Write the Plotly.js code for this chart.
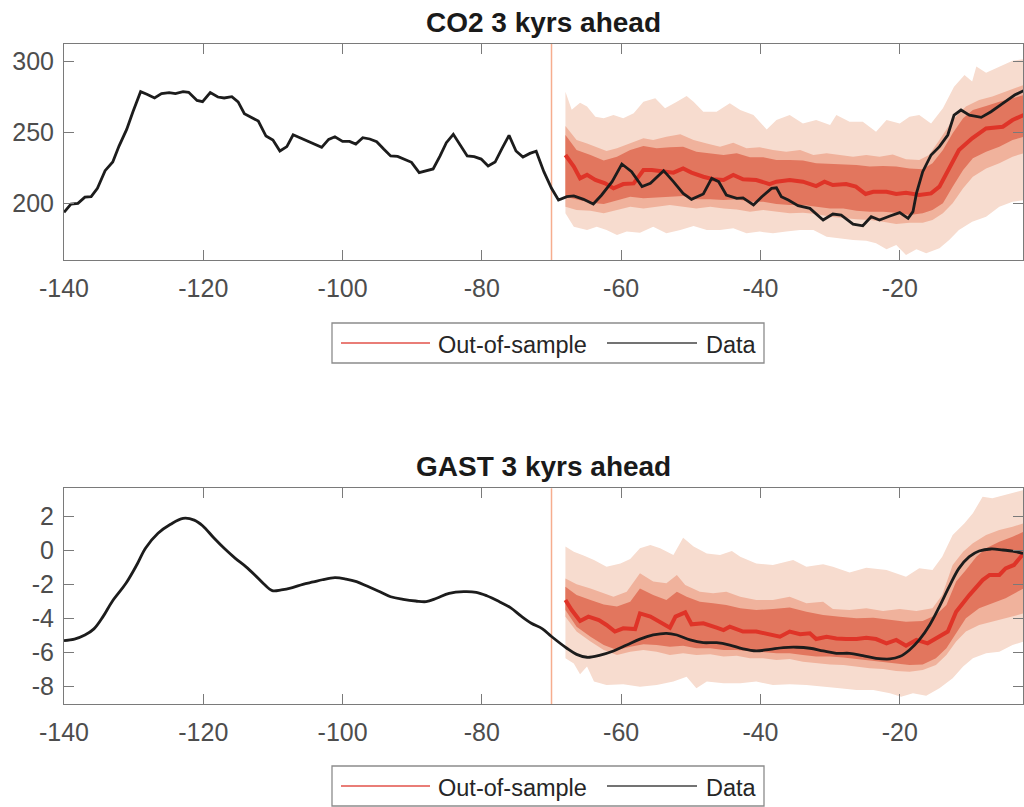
<!DOCTYPE html>
<html>
<head>
<meta charset="utf-8">
<script src="https://cdn.plot.ly/plotly-3.0.1.min.js"></script>
<style>html,body{margin:0;padding:0;background:#fff;}#chart{width:1024px;height:807px;}</style>
</head>
<body>
<div id="chart"></div>
<script>
// ---------- DATA ----------
const xTicks = [-140, -120, -100, -80, -60, -40, -20];
const xTickLabels = ["-140", "-120", "-100", "-80", "-60", "-40", "-20"];
const co2Ticks = [200, 250, 300];
const co2TickLabels = ["200", "250", "300"];
const gastTicks = [-8, -6, -4, -2, 0, 2];
const gastTickLabels = ["-8", "-6", "-4", "-2", "0", "2"];
const splitYear = -70;
const titles = ["CO2 3 kyrs ahead", "GAST 3 kyrs ahead"];
const legendNames = ["Out-of-sample", "Data"];

// CO2 observed data [kyr, ppm]
const co2Data = [[-140,193.4],[-139,199.3],[-138,199.8],[-137,204.2],[-136.1,204.5],[-135.2,210.4],[-134.1,222.9],[-133,229],[-132.1,240.3],[-131,252.1],[-130.1,264.6],[-129,278.8],[-128.1,276.9],[-127,274.3],[-126,277.4],[-124.9,278.1],[-124,277.4],[-122.9,278.8],[-122.1,278.3],[-120.9,272.6],[-120.1,271.7],[-119,278.1],[-117.9,275],[-117,274.3],[-115.9,275.2],[-115,271.5],[-114.1,263.2],[-113.1,260.4],[-112.1,258],[-111,247.4],[-110,244.6],[-109,236.8],[-108,239.9],[-107.1,248.3],[-106,246],[-104.9,243.9],[-104,241.7],[-103,239.4],[-102,245],[-101.1,246.9],[-100,243.6],[-99,243.6],[-98.1,241.7],[-97.1,246.2],[-96.1,245.3],[-95.1,243.4],[-94.1,238.2],[-93.1,233.3],[-92.1,233],[-91.1,231.1],[-90.1,228.8],[-89,221.5],[-88.1,222.9],[-87,224.1],[-86,233.3],[-85.1,242.7],[-84.1,248.6],[-83.1,241],[-82.1,233.3],[-81.1,232.8],[-80.1,231.1],[-79.1,226.2],[-78.1,229],[-77.1,238.7],[-76.1,247.9],[-75.1,236.8],[-74.1,232.5],[-73.1,235.1],[-72.2,236.6],[-71.1,222.2],[-70,210.4],[-69,202.1],[-67.8,204.5],[-66.8,205],[-65.4,202.6],[-64,199.3],[-62.8,205.7],[-61.3,215.1],[-59.9,227.6],[-58.5,222.2],[-57,211.6],[-55.8,213.9],[-53.9,222.9],[-52.5,215.1],[-51.1,206.8],[-49.9,202.6],[-48.2,206.4],[-47,217.5],[-46,215.1],[-44.9,205.7],[-43.4,203.3],[-42.5,203.6],[-41,198.6],[-39.8,204.5],[-38.4,210.4],[-37.7,210.8],[-37,204.5],[-36,202.1],[-34.6,198.1],[-32.9,196.2],[-31,188],[-29.6,192.2],[-28.4,191.5],[-26.7,185.1],[-25.3,183.9],[-24.1,190.3],[-22.9,188],[-21.4,190.8],[-20,193.2],[-18.8,189.2],[-18.1,193.9],[-17.6,206.8],[-16.7,222.2],[-15.5,234],[-14.3,239.9],[-13.1,248.1],[-12.2,262.2],[-11.2,265.8],[-10,262.2],[-8.3,260.6],[-6.9,264.6],[-5.2,270.5],[-3.5,276.4],[-2.2,279.5]];

// CO2 out-of-sample median
const co2Median = [[-68,234],[-66.8,225.8],[-65.9,217.5],[-64.9,219.9],[-63.7,216.3],[-62.3,213.9],[-61.1,210.4],[-59.7,213.4],[-58.2,213.9],[-56.8,223.3],[-55.6,223.3],[-53.9,222.2],[-52.5,221.5],[-51.1,224.5],[-49.9,221.5],[-48.2,218.6],[-46.8,216.8],[-45.3,216.3],[-43.9,219.9],[-42.5,216.8],[-40.6,216.3],[-38.7,213.4],[-37.7,215.1],[-35.8,216.3],[-33.9,215.1],[-32,212],[-30.8,215.1],[-29.6,212.7],[-27.7,213.4],[-26.3,211.6],[-24.9,206.4],[-23.8,208],[-21.9,208],[-20.5,206.4],[-19.1,207.3],[-17.2,205.7],[-15.5,206.8],[-14.3,211.6],[-12.9,224.5],[-11.5,237.5],[-9.6,245.8],[-7.6,252.8],[-5.2,254],[-3.8,258.7],[-2.2,262.3]];

// CO2 bands (outer / middle / inner), upper and lower edges
const co2OuterHi = [[-68,278.8],[-67.1,266],[-65.9,271],[-64.9,268.2],[-63.7,261.1],[-62.5,259.9],[-61.1,262.2],[-59.7,259.9],[-58.2,263.5],[-56.8,271.7],[-55.1,274.1],[-53.7,267],[-52,271.7],[-50.6,275.7],[-49.6,271.7],[-48.2,264.6],[-46.3,264.6],[-44.4,270.5],[-42.9,265.8],[-41,262.2],[-39.1,252.1],[-37.7,258.7],[-35.8,262.2],[-33.9,256.3],[-32,258.7],[-30,255.2],[-29.1,262.2],[-27.2,257.5],[-25.3,257.5],[-23.4,250.5],[-21.9,258.7],[-20,256.3],[-18.6,261.1],[-17.2,262.2],[-15.5,256.3],[-13.8,267],[-12.2,282.3],[-10.7,290.5],[-9.6,286],[-9,296.5],[-7.6,292.2],[-5.7,296.5],[-3.8,300.7],[-2.2,301.7]];
const co2OuterLo = [[-68,192.7],[-66.8,183.2],[-64.9,180.9],[-63.5,183.2],[-62.1,180.9],[-60.6,177.4],[-59.2,179.8],[-57.3,179],[-55.4,183.2],[-53.5,178.6],[-51.5,180.9],[-49.6,183.7],[-47.7,180.9],[-45.8,180.9],[-43.9,182.1],[-42,178.6],[-40.1,179.8],[-38.2,178.6],[-36.3,179.8],[-34.3,180.9],[-32.4,180.9],[-30.5,176.2],[-28.6,175],[-26.7,173.8],[-24.8,173.4],[-23.4,171.5],[-21.9,167.3],[-20.5,170.3],[-19.1,163.2],[-17.6,167.3],[-16.2,164.4],[-14.3,168],[-12.9,173.8],[-11.5,180.9],[-9.6,186.8],[-7.6,190.3],[-5.7,197.4],[-3.8,200.9],[-2.2,202.1]];
const co2MidHi = [[-68,254.5],[-66.4,244.6],[-64.9,242.2],[-63.5,239.4],[-62.1,236.8],[-60.6,238.7],[-58.7,242.2],[-56.8,245.8],[-55.4,244.6],[-53.5,246.9],[-51.5,248.6],[-49.6,244.6],[-47.7,242.2],[-45.8,239.9],[-43.9,242.7],[-42,238.7],[-40.1,239.4],[-38.2,237.5],[-36.3,236.3],[-34.3,237.5],[-32.4,234],[-30.5,235.2],[-28.6,234],[-26.7,232.8],[-24.8,234],[-22.9,232.8],[-21,234.4],[-19.1,230.9],[-17.2,230.4],[-15.8,234],[-14.3,244.6],[-12.4,258.7],[-10.5,268.2],[-8.6,272.9],[-6.7,275.3],[-4.8,278.8],[-2.2,283.5]];
const co2MidLo = [[-68,197.4],[-66.4,195],[-64.4,194.6],[-62.5,192.7],[-60.6,195],[-58.7,197.4],[-56.8,196.2],[-54.9,197.4],[-53,198.6],[-51.1,197.4],[-49.2,196.2],[-47.2,197.4],[-45.3,196.2],[-43.4,195.5],[-41.5,193.9],[-39.6,195],[-37.7,193.9],[-35.8,192.7],[-33.9,193.2],[-32,192.2],[-30,190.3],[-28.1,189.2],[-26.2,188.5],[-24.3,188],[-22.4,186.8],[-20.5,185.1],[-18.6,186.1],[-16.7,186.1],[-15.3,188],[-13.8,192.7],[-12.4,199.8],[-10.9,210.4],[-9.5,218.6],[-7.6,224.5],[-5.7,228.1],[-3.8,232.8],[-2.2,235.2]];
const co2InHi = [[-68,248.1],[-66.4,237.5],[-64.4,234],[-62.5,230],[-60.6,232.8],[-58.7,237.5],[-56.8,240.3],[-54.9,238.7],[-53,239.4],[-51.1,239.9],[-49.2,236.3],[-47.2,235.2],[-45.3,234],[-43.4,235.2],[-41.5,232.3],[-39.6,232.3],[-37.7,230.4],[-35.8,230.4],[-33.9,230],[-32,228.1],[-30,227.6],[-28.1,227.4],[-26.2,226.9],[-24.3,225.8],[-22.4,226.2],[-20.5,225.8],[-18.6,224.5],[-16.7,223.9],[-15.3,228.1],[-13.8,237.5],[-12.4,249.3],[-10.9,259.9],[-9.5,265.8],[-7.6,268.6],[-5.7,271.7],[-3.8,274.1],[-2.2,276.4]];
const co2InLo = [[-68,204.5],[-66.4,202.6],[-64.4,200.2],[-62.5,199.3],[-60.6,202.1],[-58.7,204.5],[-56.8,203.3],[-54.9,204],[-53,204.5],[-51.1,205],[-49.2,202.6],[-47.2,202.6],[-45.3,202.1],[-43.4,202.6],[-41.5,200.9],[-39.6,200.9],[-37.7,199.3],[-35.8,198.6],[-33.9,198.6],[-32,197.4],[-30,196.2],[-28.1,196.2],[-26.2,194.6],[-24.3,193.9],[-22.4,193.9],[-20.5,193.2],[-18.6,191.5],[-16.7,192.7],[-15.3,195],[-13.8,199.8],[-12.4,211.6],[-10.9,223.3],[-9.5,231.6],[-7.6,236.3],[-5.7,239.9],[-3.8,244.6],[-2.2,246.9]];

// GAST observed data [kyr, degC]
const gastData = [[-140,-5.29],[-138.5,-5.2],[-137,-4.96],[-135.7,-4.6],[-134.4,-3.88],[-133.1,-3.0],[-131.1,-1.92],[-129.5,-0.8],[-128.3,0.14],[-126.5,1.02],[-124.7,1.55],[-122.9,1.9],[-121.3,1.8],[-120.1,1.47],[-118.5,0.76],[-117,0.14],[-115.4,-0.45],[-113.9,-0.94],[-112.6,-1.43],[-111.3,-1.96],[-110.1,-2.35],[-108.8,-2.31],[-107.2,-2.17],[-105.7,-1.98],[-104.2,-1.84],[-102.9,-1.71],[-101.1,-1.59],[-99.5,-1.67],[-98,-1.82],[-96.5,-2.08],[-94.9,-2.37],[-93.1,-2.71],[-91.3,-2.86],[-89.5,-2.96],[-88,-3.0],[-86.5,-2.8],[-84.7,-2.51],[-82.6,-2.41],[-80.8,-2.45],[-79.3,-2.65],[-77.5,-3.0],[-75.9,-3.35],[-74.4,-3.84],[-72.9,-4.27],[-71.3,-4.6],[-70,-5.05],[-67.8,-5.74],[-66.4,-6.1],[-64.9,-6.27],[-63,-6.14],[-61.1,-5.9],[-59.2,-5.55],[-57.3,-5.2],[-55.4,-4.96],[-53.5,-4.86],[-52,-4.96],[-50.1,-5.25],[-48.2,-5.41],[-46.3,-5.41],[-44.4,-5.55],[-42.5,-5.78],[-40.6,-5.9],[-38.6,-5.8],[-36.7,-5.7],[-34.8,-5.68],[-32.9,-5.74],[-31,-5.9],[-29.1,-6.04],[-27.2,-6.04],[-25.3,-6.18],[-23.4,-6.33],[-21.4,-6.37],[-20,-6.23],[-18.6,-5.84],[-17.2,-5.25],[-15.7,-4.37],[-14.3,-3.29],[-12.9,-2.12],[-11.5,-1.04],[-10,-0.35],[-8.6,-0.02],[-6.9,0.1],[-5.2,0.04],[-3.8,-0.02],[-2.3,-0.16]];

const gastMedian = [[-68,-2.9],[-67.1,-3.49],[-65.9,-4.14],[-64.7,-3.88],[-63.2,-4.08],[-62.1,-4.37],[-60.9,-4.76],[-59.7,-4.57],[-58,-4.61],[-57.3,-3.69],[-55.8,-3.88],[-54.4,-4.18],[-53,-4.53],[-52.2,-3.88],[-50.8,-3.63],[-49.9,-4.33],[-48.2,-4.27],[-46.3,-4.53],[-45.3,-4.67],[-44.4,-4.47],[-42.5,-4.76],[-40.6,-4.76],[-38.6,-4.92],[-37.2,-5.06],[-35.8,-4.76],[-34.3,-4.92],[-32.9,-4.86],[-32,-5.2],[-30.5,-5.06],[-29.1,-5.16],[-27.7,-5.2],[-26.2,-5.2],[-24.8,-5.12],[-23.4,-5.2],[-21.9,-5.45],[-20.5,-5.25],[-19.1,-5.59],[-17.6,-5.25],[-16,-5.45],[-14.3,-5.06],[-13.1,-4.76],[-11.9,-3.59],[-10,-2.61],[-8.1,-1.73],[-7.1,-1.43],[-5.7,-1.43],[-4.8,-1.04],[-3.6,-0.84],[-2.2,-0.16]];

const gastOuterHi = [[-68,0.24],[-66.8,-0.06],[-65.4,-0.29],[-63.9,-0.55],[-62.1,-0.94],[-60.1,-0.75],[-58.7,-0.49],[-57.3,0.14],[-55.8,0.33],[-54.4,0.14],[-52.5,-0.26],[-51.1,0.76],[-49.6,0.24],[-47.7,-0.16],[-45.8,-0.26],[-44.1,-0.02],[-42.9,-0.35],[-40.6,-0.75],[-38.2,-0.84],[-35.3,-0.55],[-33.4,-0.94],[-31,-0.8],[-29.6,-0.94],[-27.2,-1.28],[-24.8,-1.0],[-21.9,-1.14],[-19.1,-1.53],[-17.2,-1.04],[-15.3,-1.14],[-13.9,-0.35],[-12.4,0.92],[-10.7,1.61],[-9.5,2.2],[-8.1,3.18],[-6.7,3.08],[-4.8,3.28],[-3.4,3.43],[-2.2,3.57]];
const gastOuterLo = [[-68,-6.33],[-66.8,-6.63],[-65.9,-7.27],[-64.9,-6.82],[-63.9,-7.7],[-62.1,-7.9],[-59.7,-7.86],[-57.3,-8.0],[-54.9,-7.9],[-52.5,-7.7],[-50.6,-7.41],[-49.2,-8.1],[-47.7,-7.7],[-45.3,-7.8],[-42.9,-7.8],[-40.6,-7.7],[-38.2,-7.9],[-35.8,-7.86],[-33.4,-7.9],[-31,-8.0],[-28.6,-8.1],[-26.2,-8.2],[-23.8,-8.2],[-21.4,-8.39],[-19.8,-8.59],[-18.1,-8.39],[-16.2,-8.53],[-14.3,-8.1],[-12.4,-7.51],[-10.9,-6.82],[-9.5,-6.33],[-7.6,-6.04],[-5.7,-5.94],[-3.8,-5.55],[-2.2,-5.35]];
const gastMidHi = [[-68,-1.63],[-66.4,-1.98],[-64.4,-2.22],[-62.5,-2.51],[-61.1,-2.71],[-59.2,-2.41],[-57.3,-1.33],[-55.4,-1.82],[-53.5,-1.92],[-52,-1.43],[-50.8,-2.02],[-48.7,-2.41],[-46.8,-2.51],[-44.9,-2.41],[-42.9,-2.71],[-40.6,-2.9],[-38.2,-2.9],[-35.8,-2.71],[-33.4,-3.1],[-31,-3.0],[-29.6,-3.43],[-27.2,-3.49],[-24.8,-3.39],[-22.4,-3.55],[-20,-3.43],[-17.6,-3.55],[-15.3,-3.39],[-13.9,-2.61],[-12.4,-0.84],[-10.9,-0.06],[-9.5,0.43],[-7.6,0.92],[-5.7,1.22],[-3.8,1.41],[-2.2,1.61]];
const gastMidLo = [[-68,-3.88],[-66.4,-4.76],[-64.4,-5.35],[-62.5,-5.84],[-60.6,-6.14],[-58.7,-5.94],[-56.8,-5.84],[-54.9,-5.94],[-53,-6.14],[-51.1,-6.04],[-49.2,-6.14],[-47.2,-6.1],[-45.3,-6.23],[-43.4,-6.18],[-41.5,-6.33],[-39.6,-6.33],[-37.7,-6.43],[-35.8,-6.37],[-33.9,-6.53],[-32,-6.63],[-30,-6.69],[-28.1,-6.72],[-26.2,-6.82],[-24.3,-6.92],[-22.4,-6.96],[-20.5,-7.08],[-18.6,-7.12],[-16.7,-7.02],[-14.8,-6.72],[-13.3,-6.14],[-11.9,-5.35],[-10.5,-4.76],[-8.6,-4.37],[-6.7,-4.18],[-4.8,-3.98],[-2.2,-3.69]];
const gastInHi = [[-68,-2.12],[-66.4,-2.61],[-64.4,-2.9],[-62.5,-3.16],[-60.6,-3.29],[-58.7,-3.0],[-57.3,-2.22],[-55.4,-2.61],[-53.5,-2.9],[-52,-2.41],[-50.6,-2.71],[-48.7,-3.0],[-46.8,-3.1],[-44.9,-3.2],[-42.9,-3.39],[-40.6,-3.49],[-38.2,-3.43],[-35.8,-3.35],[-33.4,-3.59],[-31,-3.78],[-28.6,-3.88],[-26.2,-3.98],[-23.8,-3.94],[-21.4,-4.08],[-19.1,-4.18],[-16.7,-4.14],[-14.8,-3.78],[-13.3,-3.2],[-11.9,-1.82],[-10.5,-1.14],[-9,-0.35],[-7.6,0.14],[-5.7,0.53],[-3.8,0.82],[-2.2,1.12]];
const gastInLo = [[-68,-3.49],[-66.4,-4.47],[-64.4,-5.06],[-62.5,-5.55],[-60.6,-5.84],[-58.7,-5.65],[-56.8,-5.51],[-54.9,-5.55],[-53,-5.65],[-51.1,-5.59],[-49.2,-5.74],[-47.2,-5.74],[-45.3,-5.84],[-43.4,-5.84],[-41.5,-5.94],[-39.6,-5.98],[-37.7,-6.04],[-35.8,-6.04],[-33.9,-6.14],[-32,-6.23],[-30,-6.23],[-28.1,-6.29],[-26.2,-6.37],[-24.3,-6.43],[-22.4,-6.53],[-20.5,-6.63],[-18.6,-6.72],[-16.7,-6.69],[-14.8,-6.33],[-13.3,-5.74],[-11.9,-4.86],[-10.5,-3.98],[-8.6,-3.39],[-6.7,-3.1],[-4.8,-2.8],[-2.2,-2.22]];

// ---------- STYLE ----------
const FONT = "'Liberation Sans', Arial, Helvetica, sans-serif";
const C = {outer:'#f7dccf', mid:'#f0b29c', inner:'#e2765e', median:'#df3428', data:'#1c1c1c', split:'#f6ad8e', axis:'#7a7a7a', tick:'#4d4d4d'};
const W = 1024, H = 807;
const px = x => x / W, py = y => 1 - y / H;

const xs = a => a.map(p => p[0]);
const ys = a => a.map(p => p[1]);
function bandTrace(hi, lo, color, xa, ya) {
  return {x: xs(hi).concat(xs(lo).reverse()), y: ys(hi).concat(ys(lo).reverse()),
    fill:'toself', fillcolor:color, mode:'lines', line:{width:0, color:color},
    hoverinfo:'skip', showlegend:false, xaxis:xa, yaxis:ya};
}
function lineTrace(d, color, width, xa, ya, shape) {
  return {x: xs(d), y: ys(d), mode:'lines', line:{color:color, width:width, shape:shape||'linear'},
    showlegend:false, xaxis:xa, yaxis:ya};
}

const traces = [
  bandTrace(co2OuterHi, co2OuterLo, C.outer, 'x', 'y'),
  bandTrace(co2MidHi, co2MidLo, C.mid, 'x', 'y'),
  bandTrace(co2InHi, co2InLo, C.inner, 'x', 'y'),
  Object.assign(lineTrace(co2Median, C.median, 4, 'x', 'y'), {name: legendNames[0]}),
  Object.assign(lineTrace(co2Data, C.data, 2.8, 'x', 'y'), {name: legendNames[1]}),
  bandTrace(gastOuterHi, gastOuterLo, C.outer, 'x2', 'y2'),
  bandTrace(gastMidHi, gastMidLo, C.mid, 'x2', 'y2'),
  bandTrace(gastInHi, gastInLo, C.inner, 'x2', 'y2'),
  Object.assign(lineTrace(gastMedian, C.median, 4, 'x2', 'y2'), {name: legendNames[0]}),
  Object.assign(lineTrace(gastData, C.data, 2.8, 'x2', 'y2', 'spline'), {name: legendNames[1]})
];

const xDom = [px(64), px(1023)];
function xAxis(anchor) {
  return {domain:xDom, range:[-140,-2.3], anchor:anchor, tickvals:xTicks, ticktext:xTickLabels,
    ticks:'inside', ticklen:10, tickwidth:1, tickcolor:C.axis, showline:true, linecolor:C.axis,
    linewidth:1, mirror:'ticks', showgrid:false, zeroline:false, ticklabelstandoff:6,
    tickfont:{family:FONT, size:25, color:C.tick}, fixedrange:true};
}
function yAxis(anchor, dom, range, tv, tt) {
  return {domain:dom, range:range, anchor:anchor, tickvals:tv, ticktext:tt, ticks:'inside', ticklen:10,
    tickwidth:1, tickcolor:C.axis, showline:true, linecolor:C.axis, linewidth:1, mirror:'ticks',
    showgrid:false, zeroline:false, ticklabelstandoff:4,
    tickfont:{family:FONT, size:25, color:C.tick}, fixedrange:true};
}

function legendBox(top) {
  const mid = top + 20;
  return {
    shapes: [
      {type:'rect', xref:'paper', yref:'paper', x0:px(332), x1:px(764), y0:py(top), y1:py(top+40),
        line:{color:'#8c8c8c', width:1.3}, fillcolor:'#ffffff', layer:'above'},
      {type:'line', xref:'paper', yref:'paper', x0:px(341), x1:px(430), y0:py(mid), y1:py(mid),
        line:{color:'#e2524a', width:1.5}, layer:'above'},
      {type:'line', xref:'paper', yref:'paper', x0:px(607), x1:px(697), y0:py(mid), y1:py(mid),
        line:{color:'#444444', width:1.5}, layer:'above'}
    ],
    annotations: [
      {xref:'paper', yref:'paper', x:px(436), y:py(mid+2), xanchor:'left', yanchor:'middle', showarrow:false,
        text:legendNames[0], font:{family:FONT, size:23.5, color:'#262626'}},
      {xref:'paper', yref:'paper', x:px(704), y:py(mid+2), xanchor:'left', yanchor:'middle', showarrow:false,
        text:legendNames[1], font:{family:FONT, size:23.5, color:'#262626'}}
    ]
  };
}
const lg1 = legendBox(323), lg2 = legendBox(766);

const splitLines = [
  {type:'line', xref:'x', yref:'y domain', x0:splitYear, x1:splitYear, y0:0, y1:1, line:{color:C.split, width:1.5}, layer:'below'},
  {type:'line', xref:'x2', yref:'y2 domain', x0:splitYear, x1:splitYear, y0:0, y1:1, line:{color:C.split, width:1.5}, layer:'below'}
];

const titleAnn = [
  {xref:'paper', yref:'paper', x:(xDom[0]+xDom[1])/2, y:py(22), xanchor:'center', yanchor:'middle', showarrow:false,
    text:'<b>'+titles[0]+'</b>', font:{family:FONT, size:28, color:'#1a1a1a'}},
  {xref:'paper', yref:'paper', x:(xDom[0]+xDom[1])/2, y:py(466), xanchor:'center', yanchor:'middle', showarrow:false,
    text:'<b>'+titles[1]+'</b>', font:{family:FONT, size:28, color:'#1a1a1a'}}
];

const layout = {
  width:W, height:H, margin:{l:0, r:0, t:0, b:0}, paper_bgcolor:'#ffffff', plot_bgcolor:'#ffffff',
  showlegend:false,
  xaxis: xAxis('y'),
  yaxis: yAxis('x', [py(260), py(44)], [159.7, 312.5], co2Ticks, co2TickLabels),
  xaxis2: xAxis('y2'),
  yaxis2: yAxis('x2', [py(704), py(488.3)], [-9.02, 3.67], gastTicks, gastTickLabels),
  shapes: splitLines.concat(lg1.shapes, lg2.shapes),
  annotations: titleAnn.concat(lg1.annotations, lg2.annotations)
};

Plotly.newPlot('chart', traces, layout, {displayModeBar:false, staticPlot:true});
</script>
</body>
</html>
